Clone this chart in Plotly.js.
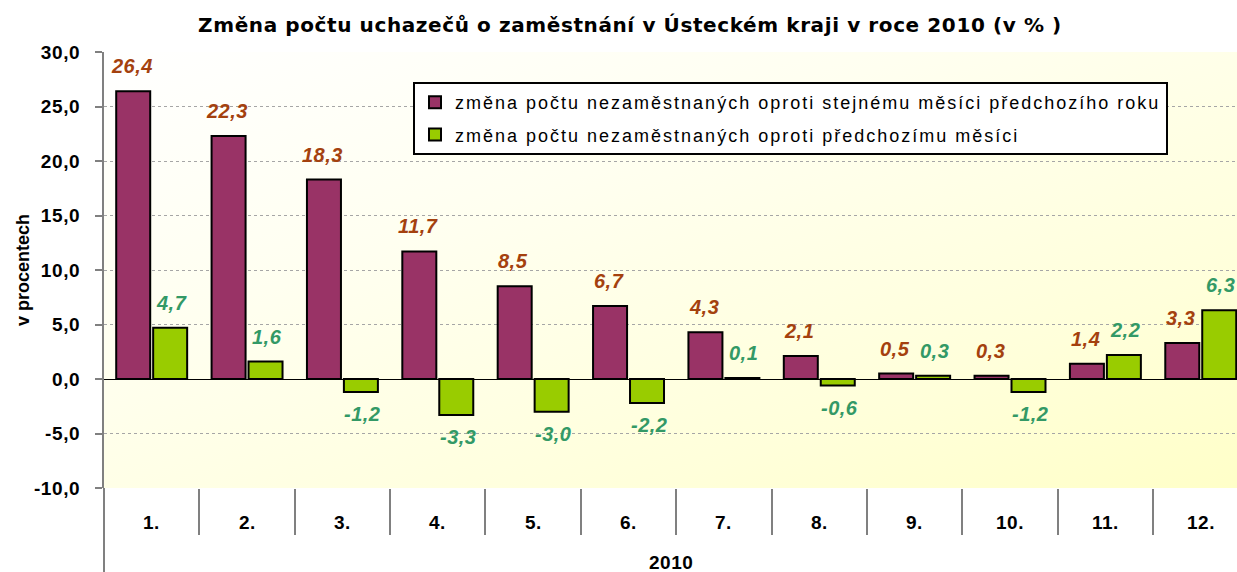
<!DOCTYPE html>
<html>
<head>
<meta charset="utf-8">
<script src="https://cdn.plot.ly/plotly-3.0.1.min.js"></script>
<style>
html,body{margin:0;padding:0;background:#fff;}
#wrap{position:relative;width:1237px;height:572px;}
#bg{position:absolute;left:104px;top:52px;width:1133px;height:436px;
  background:linear-gradient(160deg,#ffffff 0%,#fffff0 35%,#ffffda 75%,#ffffc8 100%);}
#chart{position:absolute;left:0;top:0;width:1237px;height:572px;}
.legendtext{letter-spacing:2px;}
.gtitle{letter-spacing:0.6px;}
.ytick text{letter-spacing:0.6px;}
.annotation-text{letter-spacing:0.5px;}
</style>
</head>
<body>
<div id="wrap"><div id="bg"></div><div id="chart"></div></div>
<script>
const categories = ['1.','2.','3.','4.','5.','6.','7.','8.','9.','10.','11.','12.'];
const yoyChange = [26.4, 22.3, 18.3, 11.7, 8.5, 6.7, 4.3, 2.1, 0.5, 0.3, 1.4, 3.3];
const momChange = [4.7, 1.6, -1.2, -3.3, -3.0, -2.2, 0.1, -0.6, 0.3, -1.2, 2.2, 6.3];
const yTickVals = [-10, -5, 0, 5, 10, 15, 20, 25, 30];
const yTickText = ['-10,0', '-5,0', '0,0', '5,0', '10,0', '15,0', '20,0', '25,0', '30,0'];
const seriesNames = [
  'změna počtu nezaměstnaných oproti stejnému měsíci předchozího roku',
  'změna počtu nezaměstnaných oproti předchozímu měsíci'
];
const titleText = 'Změna počtu uchazečů o zaměstnání v Ústeckém kraji v roce 2010 (v % )';
const yTitle = 'v procentech';
const xTitle = '2010';

const fmt = v => v.toFixed(1).replace('.', ',');
const FONT = 'Liberation Sans, Arial, sans-serif';

const traces = [
  {type:'bar', x:categories, y:yoyChange, name:seriesNames[0], legendgroup:'a',
   marker:{color:'#993366', line:{color:'#000', width:2}}},
  {type:'bar', x:categories, y:momChange, name:seriesNames[1], legendgroup:'b',
   marker:{color:'#99CC00', line:{color:'#000', width:2}}}
];

const annotations = [];
function addLabels(vals, shift, color){
  vals.forEach((v,i)=>{
    annotations.push({x:i, y:v, xref:'x', yref:'y', text:fmt(v), showarrow:false,
      xshift:shift, yanchor: v>=0?'bottom':'top', yshift: v>=0?12:-9,
      font:{family:FONT, size:20, color:color, weight:'bold', style:'italic'}});
  });
}
addLabels(yoyChange, -20, '#A4410E');
addLabels(momChange, 20, '#339966');
categories.forEach((c,i)=>{
  annotations.push({x:i, xref:'x', y:-0.078, yref:'paper', text:c, showarrow:false,
    yanchor:'middle', font:{family:FONT, size:19, color:'#000', weight:'bold'}});
});
annotations.push({x:0.5, xref:'paper', y:-0.172, yref:'paper', text:xTitle, showarrow:false,
  yanchor:'middle', font:{family:FONT, size:19, color:'#000', weight:'bold'}});

const layout = {
  width:1237, height:572,
  margin:{l:104, r:0, t:52, b:84},
  paper_bgcolor:'rgba(0,0,0,0)', plot_bgcolor:'rgba(0,0,0,0)',
  font:{family:FONT},
  title:{text:titleText, x:630/1237, xanchor:'center', xref:'container', y:1-25/572, yanchor:'middle',
    font:{family:'DejaVu Sans, sans-serif', size:20, color:'#000', weight:'bold'}},
  barmode:'group', bargap:0.225, bargroupgap:0.08,
  showlegend:true,
  legend:{x:(413-104)/1133, xanchor:'left', y:(488-82)/436, yanchor:'top',
    bgcolor:'#fff', bordercolor:'#000', borderwidth:2, traceorder:'grouped',
    font:{family:FONT, size:18, color:'#000'}, tracegroupgap:6, itemwidth:30},
  xaxis:{type:'category', range:[-0.5, 11.38], showticklabels:false,
    ticks:'outside', tickson:'boundaries', ticklen:46, tickwidth:2, tickcolor:'#808080',
    showgrid:false, showline:false, zeroline:false, fixedrange:true},
  yaxis:{range:[-10, 30], tickvals:yTickVals, ticktext:yTickText,
    ticks:'outside', ticklen:7, tickwidth:2, tickcolor:'#808080', ticklabelstandoff:11,
    showline:true, linecolor:'#808080', linewidth:2,
    showgrid:true, gridcolor:'#a6a6a6', gridwidth:1, griddash:'3px,3px',
    zeroline:true, zerolinecolor:'#000', zerolinewidth:1,
    tickfont:{family:FONT, size:19, color:'#000', weight:'bold'},
    title:{text:yTitle, standoff:0, font:{family:FONT, size:18, color:'#000', weight:'bold'}},
    automargin:false},
  shapes:[{type:'line', xref:'paper', yref:'paper', x0:0, x1:0, y0:0, y1:-84/436,
    line:{color:'#808080', width:2}}],
  annotations:annotations
};
Plotly.newPlot('chart', traces, layout, {staticPlot:true, displayModeBar:false});
</script>
</body>
</html>
